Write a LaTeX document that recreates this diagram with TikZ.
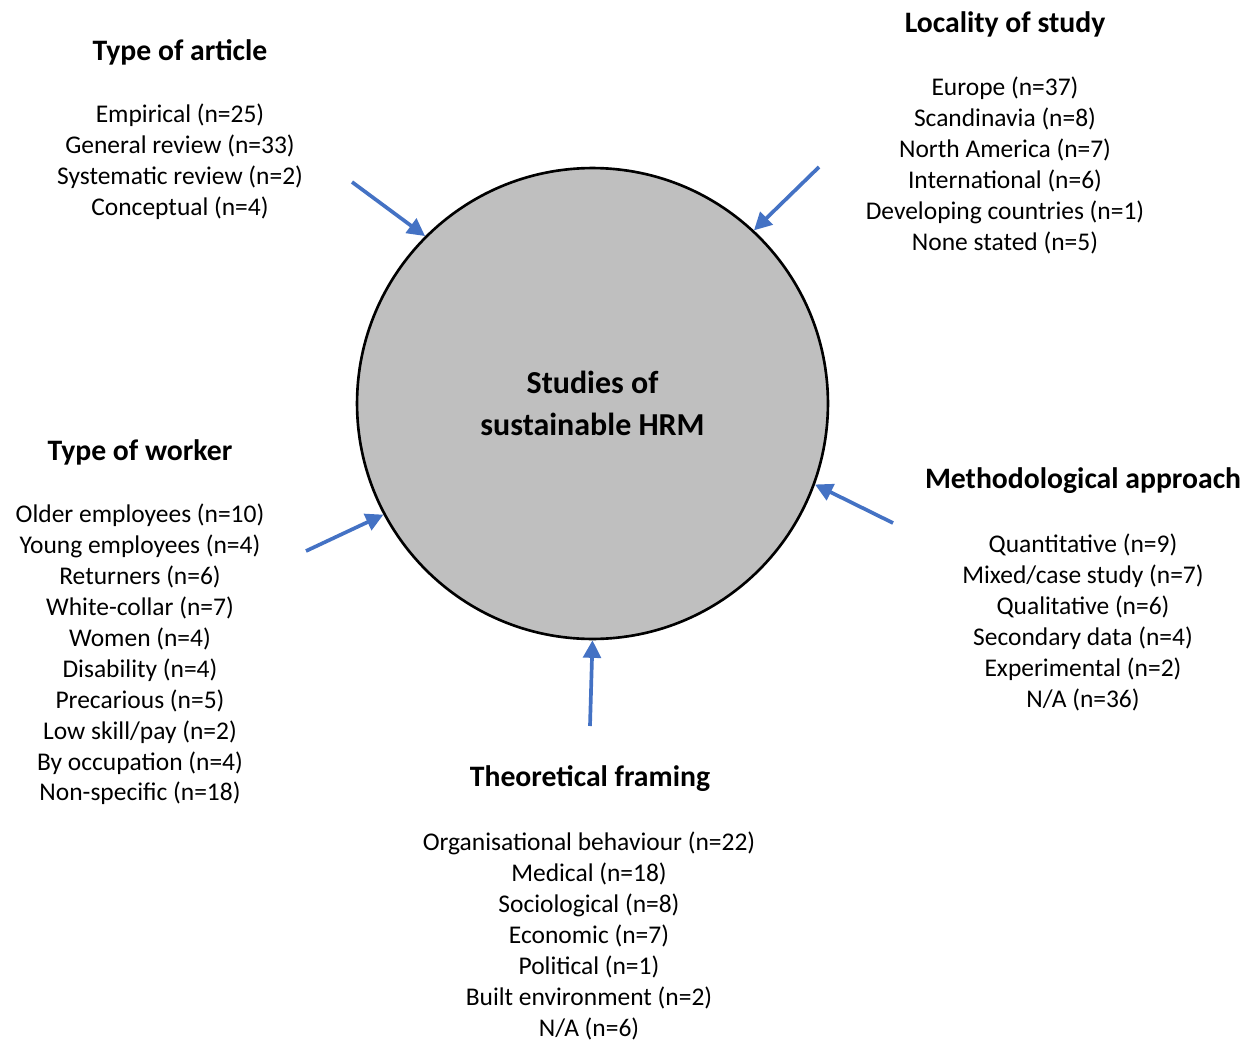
\documentclass[tikz,border=0pt]{standalone}
\usepackage{fontspec}
\setmainfont{Carlito}
\usetikzlibrary{arrows.meta}
\definecolor{arrowblue}{HTML}{4472C4}
\definecolor{hubgray}{RGB}{191,191,191}
\tikzset{
  head/.style={font=\fontsize{16.9}{20}\selectfont\bfseries},
  list/.style={align=center,font=\fontsize{14.5}{17.6}\selectfont},
  arr/.style={draw=arrowblue,line width=2.1pt,-{Triangle[length=10pt,width=10pt]}}
}
\begin{document}
\begin{tikzpicture}[x=0.02cm,y=-0.02cm]
  \useasboundingbox (0,0) rectangle (1244,1041);
  \node[circle,draw,line width=1.5pt,fill=hubgray,minimum size=9.42cm,inner sep=0pt,
        align=center,font=\fontsize{18.2}{23.8}\selectfont\bfseries]
    (hub) at (592.5,403.5) {Studies of\\sustainable HRM};

  % type of article
  \node[head] (arthead) at (180,52) {Type of article};
  \node[list] (art) at (180,161.5) {Empirical (n=25)\\General review (n=33)\\
    Systematic review (n=2)\\Conceptual (n=4)};
  % locality of study
  \node[head] (lochead) at (1005,24) {Locality of study};
  \node[list] (loc) at (1005,165.5) {Europe (n=37)\\Scandinavia (n=8)\\
    North America (n=7)\\International (n=6)\\Developing countries (n=1)\\
    None stated (n=5)};
  % type of worker
  \node[head] (wrkhead) at (140,452) {Type of worker};
  \node[list] (wrk) at (140,654.5) {Older employees (n=10)\\Young employees (n=4)\\
    Returners (n=6)\\White-collar (n=7)\\Women (n=4)\\Disability (n=4)\\
    Precarious (n=5)\\Low skill/pay (n=2)\\By occupation (n=4)\\Non-specific (n=18)};
  % methodological approach
  \node[head] (methhead) at (1083,481) {Methodological approach};
  \node[list] (meth) at (1083,622.5) {Quantitative (n=9)\\Mixed/case study (n=7)\\
    Qualitative (n=6)\\Secondary data (n=4)\\Experimental (n=2)\\N/A (n=36)};
  % theoretical framing
  \node[head] (theohead) at (590,779) {Theoretical framing};
  \node[list] (theo) at (589,936) {Organisational behaviour (n=22)\\Medical (n=18)\\
    Sociological (n=8)\\Economic (n=7)\\Political (n=1)\\Built environment (n=2)\\
    N/A (n=6)};

  \coordinate (t1) at (352,182);
  \coordinate (t2) at (819,167);
  \coordinate (t3) at (306,551);
  \coordinate (t4) at (893,523);
  \coordinate (t5) at (590,726);
  \foreach \t/\a in {t1/135, t2/47.6, t3/208.5, t4/-20.4, t5/-90}
    \draw[arr] (\t) -- (hub.\a);
\end{tikzpicture}
\end{document}
